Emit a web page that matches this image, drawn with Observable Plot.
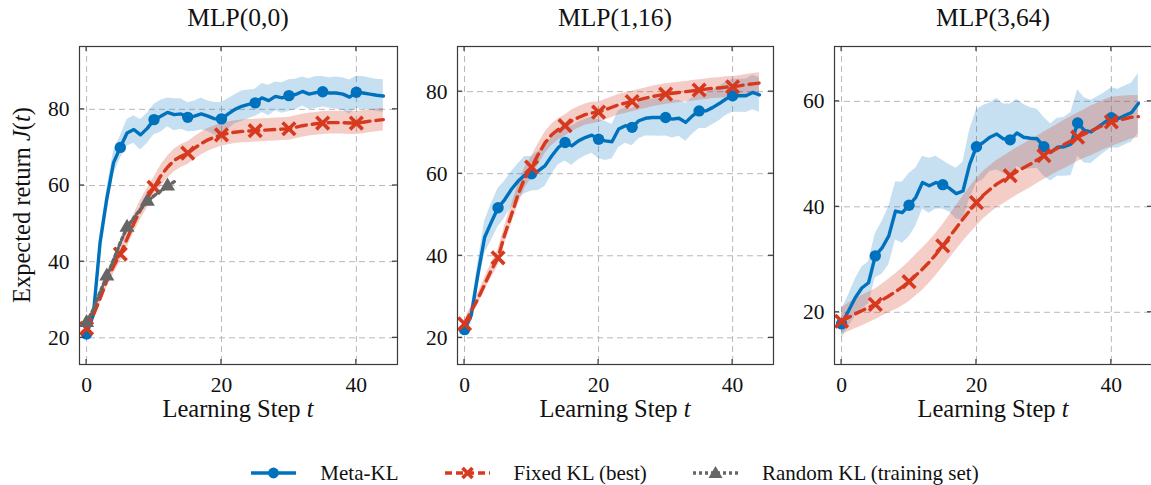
<!DOCTYPE html>
<html><head><meta charset="utf-8">
<script src="https://cdn.jsdelivr.net/npm/d3@7"></script>
<script src="https://cdn.jsdelivr.net/npm/@observablehq/plot@0.6"></script>
<style>
html,body{margin:0;padding:0;background:#fff;overflow:hidden;}
#root{position:relative;width:1151px;height:485px;overflow:hidden;font-family:"Liberation Serif","Times New Roman",serif;background:#fff;}
.panel{position:absolute;top:0;}
.panel svg{max-width:none!important;}
#legend{position:absolute;top:460px;left:0;width:1230px;height:26px;display:flex;align-items:center;justify-content:center;font-size:21px;color:#111;}
#legend .sw{display:block;margin-right:24px;}
#legend .lab{margin-right:46px;white-space:nowrap;}
#legend .lab:last-child{margin-right:0;}
</style></head><body><div id="root"><div id="legend"></div></div>
<script>
// ---- data ----
const steps = d3.range(45);
const xTicks = [0, 20, 40];
const titles = ["MLP(0,0)", "MLP(1,16)", "MLP(3,64)"];
const seriesNames = ["Meta-KL", "Fixed KL (best)", "Random KL (training set)"];

const meta00 = [21, 26, 45, 56.5, 66, 70, 73.8, 74.7, 73.3, 75, 77.3, 78.2, 79.2, 78.6, 78.8, 77.9, 78.2, 78.8, 78.2, 77.5, 77.5, 78.8, 80, 80.8, 81.3, 81.7, 83, 82.3, 83.4, 83, 83.6, 83.9, 84.7, 84, 84.4, 84.6, 84.3, 84.3, 84, 83.2, 84.5, 84.3, 84, 83.7, 83.5];
const metaSd00 = [1, 1.5, 2.2, 2.6, 3, 3, 3.5, 3.6, 4, 4, 4, 4.2, 3.8, 4.2, 4, 3.8, 4, 4.2, 4, 4.3, 4.3, 4, 3.8, 4, 3.8, 3.6, 3.8, 4, 3.8, 4, 4.2, 4, 3.8, 4, 4.2, 4, 4, 4.2, 4.3, 4.5, 4.2, 4.3, 4.2, 4.2, 4.3];
const fixed00 = [22.5, 26, 30.3, 35, 38.8, 42, 46, 50, 53.6, 56.7, 59.5, 62.5, 64.8, 66.6, 67.7, 68.5, 69.8, 71, 72, 72.7, 73.3, 73.7, 74, 74.2, 74.3, 74.4, 74.5, 74.6, 74.7, 74.8, 74.9, 75.3, 75.7, 76, 76.2, 76.4, 76.5, 76.5, 76.5, 76.4, 76.4, 76.6, 76.9, 77.1, 77.3];
const fixedSd00 = [1, 1.3, 1.5, 1.8, 2, 2, 2.2, 2.4, 2.5, 2.6, 2.7, 2.8, 2.9, 3, 3, 3, 3, 3, 3, 3, 3, 3, 3, 3, 3, 3, 3, 3, 3, 3, 3, 3, 3, 3, 3, 3, 3, 3, 3, 3, 3, 3, 3, 3, 3];
const random00 = [24, 27.5, 32, 36.2, 40.5, 45, 49, 51.5, 53.8, 55.8, 57.3, 58.6, 59.8, 61];

const meta116 = [22, 25.5, 35.5, 44.5, 48.2, 51.7, 53.7, 56.2, 58.2, 59.7, 60, 60.7, 61.9, 64.3, 66.4, 67.6, 66.8, 68, 68.8, 69.4, 68.4, 68, 67.8, 70.9, 71.7, 71.3, 72.9, 73.5, 73.7, 73.7, 73.7, 73.3, 73.5, 72.5, 74.1, 75.3, 75.3, 76.1, 77.1, 78.2, 79, 79, 79, 79.8, 79.2];
const metaSd116 = [1, 2, 3, 4, 4.5, 4.7, 4.5, 4.3, 4.2, 4.5, 4.2, 4.8, 5, 4.5, 4.2, 4.5, 4.8, 4.6, 4.5, 4.4, 4.7, 4.8, 4.2, 4.5, 4.3, 4.5, 4.4, 4.3, 4.5, 4.6, 4.5, 4.6, 4.4, 4.6, 4.5, 4.3, 4.3, 4.2, 4.2, 4, 4, 4, 4.1, 4.2, 4.2];
const fixed116 = [23.4, 26.5, 29.5, 33, 36.5, 39.5, 45.2, 50, 55, 59, 61.6, 64.7, 67.5, 69.5, 70.8, 71.7, 72.9, 73.7, 74.4, 74.8, 75, 75.6, 76.2, 76.8, 77.2, 77.6, 78, 78.4, 78.8, 79.1, 79.4, 79.6, 79.8, 80, 80.2, 80.4, 80.6, 80.8, 80.9, 81.1, 81.2, 81.4, 81.7, 81.9, 82.1];
const fixedSd116 = [1, 1.2, 1.4, 1.6, 1.8, 2, 2.2, 2.4, 2.5, 2.6, 2.6, 2.6, 2.6, 2.6, 2.6, 2.6, 2.6, 2.6, 2.6, 2.6, 2.5, 2.5, 2.5, 2.5, 2.5, 2.5, 2.5, 2.5, 2.5, 2.5, 2.5, 2.5, 2.5, 2.5, 2.5, 2.5, 2.5, 2.5, 2.5, 2.5, 2.5, 2.5, 2.5, 2.5, 2.5];

const meta364 = [17.8, 20.2, 22.7, 24.6, 25.6, 30.7, 32.2, 34.5, 39.2, 38.9, 40.3, 41.8, 44.6, 44, 44.6, 44.2, 43.5, 42.5, 43, 48.1, 51.4, 52.2, 53.2, 53.8, 52.9, 52.7, 54, 53.2, 53, 52.9, 51.4, 50.3, 51.3, 51.4, 51.9, 55.9, 54.5, 54.2, 55.1, 56, 56.9, 56.7, 57.3, 57.9, 59.6];
const metaSd364 = [2.8, 3, 3.5, 4, 4, 4.2, 5, 5.5, 5.5, 5.8, 6, 5.5, 5, 5.2, 5, 4.6, 4.5, 4.8, 5.5, 6.5, 7, 7, 6.5, 6.8, 6.6, 6.8, 6.4, 6.2, 5.8, 5.6, 5.6, 5.4, 5.5, 5.6, 6, 6.3, 6.2, 6, 5.8, 5.7, 5.7, 5.6, 5.6, 5.6, 5.7];
const fixed364 = [18.3, 19, 19.7, 20.3, 20.9, 21.5, 22.3, 23.1, 23.9, 24.8, 25.8, 27, 28.2, 29.5, 31, 32.6, 34.3, 36, 37.7, 39.3, 40.8, 42.2, 43.3, 44.3, 45.1, 45.9, 46.7, 47.4, 48.1, 48.9, 49.7, 50.4, 51.1, 51.8, 52.5, 53.2, 53.8, 54.4, 55, 55.6, 56.1, 56.4, 56.7, 57, 57.1];
const fixedSd364 = [2.5, 2.7, 2.8, 2.9, 2.9, 2.9, 3, 3.2, 3.4, 3.6, 3.8, 3.9, 4, 4, 4, 4, 4.1, 4.2, 4.3, 4.4, 4.5, 4.5, 4.5, 4.5, 4.5, 4.5, 4.5, 4.5, 4.5, 4.5, 4.5, 4.5, 4.5, 4.6, 4.6, 4.6, 4.6, 4.7, 4.7, 4.7, 4.7, 4.5, 4.3, 4.1, 4];

const yTicks00 = [20, 40, 60, 80];
const yTicks116 = [20, 40, 60, 80];
const yTicks364 = [20, 40, 60];

// ---- style ----
const BLUE = "#0072BD", RED = "#D7391F", GRAY = "#666666", FRAME = "#3a3a3a";
const FONT = "Liberation Serif, Times New Roman, serif";
const H = 430, MT = 46, MB = 66;

function rows(vals, sds) {
  return vals.map((v, i) => ({t: steps[i], v, lo: sds ? v - sds[i] : v, hi: sds ? v + sds[i] : v}));
}

const panels = [
  {title: titles[0], meta: meta00, metaSd: metaSd00, fixed: fixed00, fixedSd: fixedSd00, random: random00,
   yDomain: [13, 96.5], yTicks: yTicks00, left: 0, width: 400, mL: 79, mR: 3, ylabel: true},
  {title: titles[1], meta: meta116, metaSd: metaSd116, fixed: fixed116, fixedSd: fixedSd116,
   yDomain: [13.5, 91], yTicks: yTicks116, left: 400, width: 376, mL: 57, mR: 3},
  {title: titles[2], meta: meta364, metaSd: metaSd364, fixed: fixed364, fixedSd: fixedSd364,
   yDomain: [10.1, 70.4], yTicks: yTicks364, left: 776, width: 380, mL: 58, mR: 4}
];

const root = document.getElementById("root");

for (const cfg of panels) {
  const meta = rows(cfg.meta, cfg.metaSd);
  const fixed = rows(cfg.fixed, cfg.fixedSd);
  const marks = [
    Plot.gridX(xTicks, {stroke: "#b8b8b8", strokeOpacity: 1, strokeWidth: 1, strokeDasharray: "6,4"}),
    Plot.gridY(cfg.yTicks, {stroke: "#b8b8b8", strokeOpacity: 1, strokeWidth: 1, strokeDasharray: "6,4"}),
    Plot.areaY(meta, {x: "t", y1: "lo", y2: "hi", fill: BLUE, fillOpacity: 0.22}),
    Plot.areaY(fixed, {x: "t", y1: "lo", y2: "hi", fill: RED, fillOpacity: 0.25}),
    Plot.lineY(meta, {x: "t", y: "v", stroke: BLUE, strokeWidth: 3.4, strokeLinejoin: "round"}),
    Plot.dot(meta.filter(d => d.t % 5 === 0), {x: "t", y: "v", r: 5.7, fill: BLUE}),
    Plot.lineY(fixed, {x: "t", y: "v", stroke: RED, strokeWidth: 3.4, strokeDasharray: "10,6"}),
    Plot.dot(fixed.filter(d => d.t % 5 === 0), {x: "t", y: "v", symbol: "times", stroke: RED, strokeWidth: 3.6, r: 5.8})
  ];
  if (cfg.random) {
    const random = rows(cfg.random);
    marks.push(
      Plot.lineY(random, {x: "t", y: "v", stroke: GRAY, strokeWidth: 3.4, strokeDasharray: "3,3"}),
      Plot.dot(random.filter(d => d.t % 3 === 0), {x: "t", y: "v", symbol: "triangle", fill: GRAY, r: 5.6})
    );
  }
  marks.push(
    Plot.frame({stroke: FRAME, strokeWidth: 1.2}),
    Plot.axisX(xTicks, {anchor: "bottom", tickSize: 0, tickPadding: 12, fontSize: 21.5, fill: "#111"}),
    Plot.axisY(cfg.yTicks, {anchor: "left", tickSize: 0, tickPadding: 10, fontSize: 21.5, fill: "#111"})
  );
  const chart = Plot.plot({
    width: cfg.width, height: H,
    marginTop: MT, marginBottom: MB, marginLeft: cfg.mL, marginRight: cfg.mR,
    x: {domain: [-1.05, 46.1], label: null},
    y: {domain: cfg.yDomain, label: null},
    style: {fontFamily: FONT, fontSize: "21.5px", background: "transparent", overflow: "visible", color: "#111"},
    marks
  });
  const div = document.createElement("div");
  div.className = "panel";
  div.style.left = cfg.left + "px";
  div.style.width = cfg.width + "px";
  div.appendChild(chart);
  root.appendChild(div);

  // inward ticks on all four sides, placed through the plot's scales
  const sx = chart.scale("x"), sy = chart.scale("y");
  const fx0 = cfg.mL, fx1 = cfg.width - cfg.mR, fy0 = H - MB, fy1 = MT;
  const svg = d3.select(chart);
  const g = svg.append("g").attr("stroke", FRAME).attr("stroke-width", 1.2);
  for (const v of xTicks) {
    const px = sx.apply(v);
    g.append("line").attr("x1", px).attr("x2", px).attr("y1", fy0).attr("y2", fy0 - 5);
    g.append("line").attr("x1", px).attr("x2", px).attr("y1", fy1).attr("y2", fy1 + 5);
  }
  for (const v of cfg.yTicks) {
    const py = sy.apply(v);
    g.append("line").attr("x1", fx0).attr("x2", fx0 + 5).attr("y1", py).attr("y2", py);
    g.append("line").attr("x1", fx1).attr("x2", fx1 - 5).attr("y1", py).attr("y2", py);
  }
  const cx = (fx0 + fx1) / 2;
  // title
  svg.append("text").attr("x", cx).attr("y", 26).attr("text-anchor", "middle")
    .attr("font-family", FONT).attr("font-size", 25.5).attr("fill", "#111").text(cfg.title);
  // x label
  const xl = svg.append("text").attr("x", cx).attr("y", 417).attr("text-anchor", "middle")
    .attr("font-family", FONT).attr("font-size", 24.5).attr("fill", "#111");
  xl.append("tspan").text("Learning Step ");
  xl.append("tspan").attr("font-style", "italic").text("t");
  // y label
  if (cfg.ylabel) {
    const yl = svg.append("text").attr("transform", `translate(30,${(fy0 + fy1) / 2}) rotate(-90)`)
      .attr("text-anchor", "middle").attr("font-family", FONT).attr("font-size", 24.5).attr("fill", "#111");
    yl.append("tspan").text("Expected return ");
    yl.append("tspan").attr("font-style", "italic").text("J");
    yl.append("tspan").text("(");
    yl.append("tspan").attr("font-style", "italic").text("t");
    yl.append("tspan").text(")");
  }
}

// ---- legend ----
const legend = d3.select("#legend");
const swatches = [
  {color: BLUE, dash: null, marker: "circle"},
  {color: RED, dash: "7,4", marker: "times"},
  {color: GRAY, dash: "3,3", marker: "triangle"}
];
swatches.forEach((s, i) => {
  const sw = legend.append("svg").attr("class", "sw").attr("width", 45).attr("height", 20);
  const line = sw.append("line").attr("x1", 0).attr("x2", 45).attr("y1", 10).attr("y2", 10)
    .attr("stroke", s.color).attr("stroke-width", 3.4);
  if (s.dash) line.attr("stroke-dasharray", s.dash);
  if (s.marker === "circle") sw.append("circle").attr("cx", 22.5).attr("cy", 10).attr("r", 5.4).attr("fill", s.color);
  if (s.marker === "times") sw.append("path").attr("d", "M17.5,5L27.5,15M27.5,5L17.5,15").attr("stroke", s.color).attr("stroke-width", 3.6).attr("fill", "none");
  if (s.marker === "triangle") sw.append("path").attr("d", "M22.5,3L29.5,15L15.5,15Z").attr("fill", s.color);
  legend.append("span").attr("class", "lab").text(seriesNames[i]);
});
</script></body></html>
